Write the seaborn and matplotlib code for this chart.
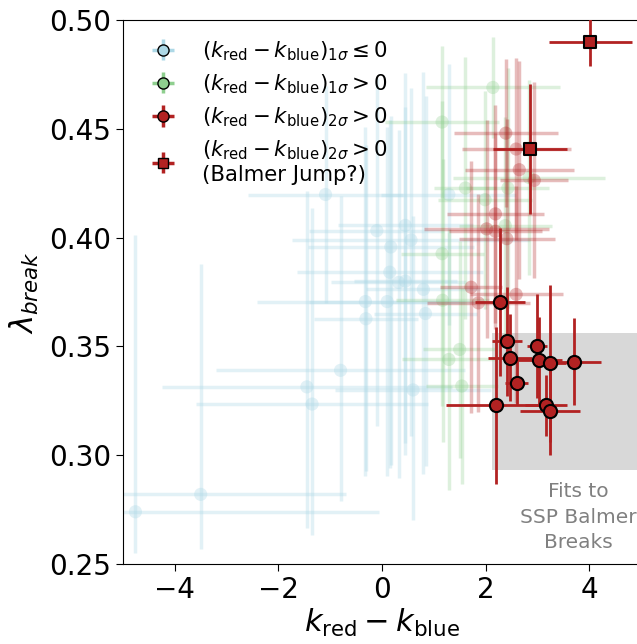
import numpy as np
import matplotlib
matplotlib.use('Agg')
import matplotlib.pyplot as plt
import seaborn as sns

# 1 sigma <= 0 (light blue); asymmetric errors in lambda
blue_x = [-4.76, -3.50, -1.35, -1.45, -0.80, 0.60, -1.09, 0.45, -0.10, 0.56, 0.17, 0.15, 0.32, 0.45, 0.80, -0.32, 0.10, 0.84, -0.31, 1.29]
blue_y = [0.274, 0.282, 0.3235, 0.3314, 0.339, 0.330, 0.4198, 0.4056, 0.4032, 0.3989, 0.3957, 0.3841, 0.3794, 0.380, 0.3762, 0.3706, 0.3706, 0.3651, 0.3627, 0.4198]
blue_xerr = [4.7, 2.8, 2.24, 2.8, 2.4, 1.5, 1.5, 1.3, 1.3, 2.3, 1.6, 1.8, 1.3, 1.0, 1.1, 2.1, 1.5, 1.0, 1.0, 1.3]
blue_ylo = [0.019, 0.025, 0.06, 0.065, 0.06, 0.06, 0.05, 0.10, 0.09, 0.09, 0.10, 0.09, 0.09, 0.08, 0.085, 0.08, 0.08, 0.07, 0.07, 0.06]
blue_yhi = [0.127, 0.106, 0.09, 0.09, 0.08, 0.08, 0.05, 0.07, 0.07, 0.07, 0.06, 0.07, 0.07, 0.08, 0.10, 0.08, 0.08, 0.10, 0.08, 0.06]

# 1 sigma > 0 (light green)
green_x = [2.14, 1.16, 1.61, 1.99, 2.43, 2.84, 1.16, 2.38, 1.17, 1.50, 1.29, 1.54]
green_y = [0.469, 0.4531, 0.4228, 0.4174, 0.4228, 0.4276, 0.3926, 0.4055, 0.3712, 0.3486, 0.344, 0.3318]
green_xerr = [1.3, 1.1, 0.6, 0.9, 0.8, 1.46, 0.8, 0.9, 0.9, 0.7, 0.9, 0.7]
green_yerr = [0.023, 0.035, 0.06, 0.05, 0.055, 0.045, 0.07, 0.05, 0.065, 0.05, 0.06, 0.045]

# 2 sigma > 0, faded
redf_x = [2.39, 2.59, 2.65, 2.94, 2.19, 2.02, 2.19, 2.41, 1.72, 2.59, 1.86]
redf_y = [0.448, 0.4407, 0.4312, 0.4263, 0.4109, 0.404, 0.4029, 0.3995, 0.3772, 0.3739, 0.370]
redf_xerr = [1.0, 1.05, 1.05, 0.66, 0.93, 1.2, 0.9, 0.93, 0.6, 0.9, 1.0]
redf_yerr = [0.034, 0.042, 0.05, 0.045, 0.05, 0.05, 0.045, 0.055, 0.058, 0.05, 0.05]

# 2 sigma > 0, fits to SSP Balmer breaks
red_x = [2.28, 2.42, 2.47, 2.99, 3.03, 3.25, 3.70, 2.60, 2.21, 3.17, 3.25]
red_y = [0.3705, 0.3524, 0.3448, 0.3501, 0.3437, 0.3422, 0.343, 0.3332, 0.3229, 0.3229, 0.3203]
red_xerr = [0.48, 0.29, 0.42, 0.2, 0.45, 0.3, 0.52, 0.22, 0.97, 0.4, 0.58]
red_yerr = [0.034, 0.025, 0.02, 0.024, 0.02, 0.036, 0.02, 0.01, 0.036, 0.014, 0.02]

# Balmer jump candidates
sq_x = [4.02, 2.86]
sq_y = [0.490, 0.4408]
sq_xerr = [0.8, 0.71]
sq_yerr = [0.011, 0.03]

c_blue = 'lightblue'
c_green = '#8fcf8f'
c_red = 'firebrick'

fig = plt.figure(figsize=(6.37, 6.44), dpi=100)
ax = fig.add_axes([123/637, 80/644, 518/637, 544/644])

# faded groups
blue_yerr = np.array([blue_ylo, blue_yhi])
ax.errorbar(blue_x, blue_y, xerr=blue_xerr, yerr=blue_yerr, fmt='none', ecolor=c_blue,
            elinewidth=2.5, alpha=0.35, zorder=2)
sns.scatterplot(x=blue_x, y=blue_y, color=c_blue, s=90, alpha=0.35, edgecolor='none', ax=ax, zorder=2)
for x, y, xe, ye, c in [(green_x, green_y, green_xerr, green_yerr, c_green),
                        (redf_x, redf_y, redf_xerr, redf_yerr, c_red)]:
    ax.errorbar(x, y, xerr=xe, yerr=ye, fmt='none', ecolor=c, elinewidth=2.5, alpha=0.3, zorder=2)
    sns.scatterplot(x=x, y=y, color=c, s=90, alpha=0.3, edgecolor='none', ax=ax, zorder=2)

# grey box: SSP Balmer break fits
ax.fill_between([2.12, 5], 0.293, 0.356, color='gray', alpha=0.3, linewidth=0, zorder=1)
ax.text(3.79, 0.2715, 'Fits to\nSSP Balmer\nBreaks', color='gray', fontsize=14.5,
        ha='center', va='center', linespacing=1.45)

ax.errorbar(red_x, red_y, xerr=red_xerr, yerr=red_yerr, fmt='none', ecolor=c_red, elinewidth=2, zorder=3)
sns.scatterplot(x=red_x, y=red_y, color=c_red, s=90, edgecolor='black', linewidth=1.5, ax=ax, zorder=4)
ax.errorbar(sq_x, sq_y, xerr=sq_xerr, yerr=sq_yerr, fmt='none', ecolor=c_red, elinewidth=2, zorder=3)
sns.scatterplot(x=sq_x, y=sq_y, color=c_red, marker='s', s=65, edgecolor='black', linewidth=1.5, ax=ax, zorder=4)

# legend proxies
lab = r'$(k_{\rm red} - k_{\rm blue})_{%s} %s 0$'
h1 = ax.errorbar([np.nan], [np.nan], xerr=[1], yerr=[1], fmt='o', color=c_blue, mec='black', ms=8, elinewidth=2.5,
                 label=lab % (r'1\sigma', r'\leq'))
h2 = ax.errorbar([np.nan], [np.nan], xerr=[1], yerr=[1], fmt='o', color=c_green, mec='black', ms=8, elinewidth=2.5,
                 label=lab % (r'1\sigma', '>'))
h3 = ax.errorbar([np.nan], [np.nan], xerr=[1], yerr=[1], fmt='o', color=c_red, mec='black', ms=8, elinewidth=2.5,
                 label=lab % (r'2\sigma', '>'))
h4 = ax.errorbar([np.nan], [np.nan], xerr=[1], yerr=[1], fmt='s', color=c_red, mec='black', ms=7, elinewidth=2.5,
                 label=lab % (r'2\sigma', '>') + '\n(Balmer Jump?)')
ax.legend(handles=[h1, h2, h3, h4], loc='upper left', fontsize=15.3, frameon=False,
          handlelength=1.0, handletextpad=1.35, labelspacing=0.45, bbox_to_anchor=(0.02, 1.0))

ax.set_xlim(-5, 5)
ax.set_ylim(0.25, 0.50)
ax.set_xticks([-4, -2, 0, 2, 4])
ax.set_yticks([0.25, 0.30, 0.35, 0.40, 0.45, 0.50])
ax.tick_params(labelsize=20, length=5)
ax.set_xlabel(r'$k_{\rm red} - k_{\rm blue}$', fontsize=22, labelpad=2)
ax.set_ylabel(r'$\lambda_{break}$', fontsize=22, labelpad=6)

fig.savefig('out.png', dpi=100)
